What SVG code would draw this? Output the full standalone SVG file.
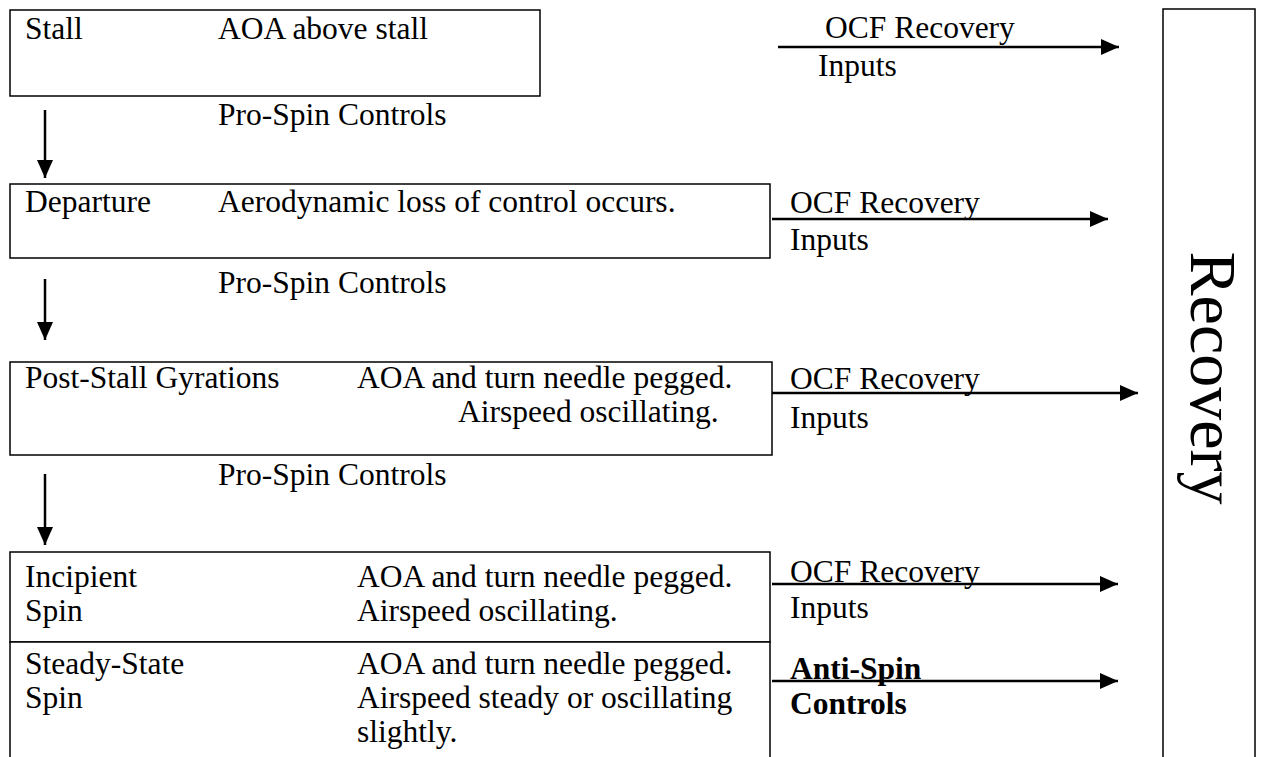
<svg xmlns="http://www.w3.org/2000/svg" width="1284" height="757" viewBox="0 0 1284 757">
<style>
text{font-family:"Liberation Serif","Times New Roman",serif;font-size:31.5px;fill:#000}
.b{font-weight:bold}
.box{fill:#fff;stroke:#000;stroke-width:1.5}
.arr{stroke:#000;stroke-width:2.5;fill:none;marker-end:url(#ah)}
.rec{font-size:66px}
</style>
<defs>
<marker id="ah" markerUnits="userSpaceOnUse" markerWidth="19" markerHeight="17" refX="18" refY="8" orient="auto">
<path d="M0,0 L18,8 L0,16 z" fill="#000"/>
</marker>
</defs>
<rect width="1284" height="757" fill="#fff"/>
<g id="stall">
<rect class="box" x="10" y="10" width="530" height="86"/>
<text x="25" y="39">Stall</text>
<text x="218" y="39">AOA above stall</text>
</g>
<g id="departure">
<rect class="box" x="10" y="184" width="760" height="74"/>
<text x="25" y="212">Departure</text>
<text x="218" y="212">Aerodynamic loss of control occurs.</text>
</g>
<g id="psg">
<rect class="box" x="10" y="362" width="762" height="93"/>
<text x="25" y="388">Post-Stall Gyrations</text>
<text x="357" y="388">AOA and turn needle pegged.</text>
<text x="458" y="422">Airspeed oscillating.</text>
</g>
<g id="incipient">
<rect class="box" x="10" y="552" width="760" height="90"/>
<text x="25" y="587">Incipient</text>
<text x="25" y="621">Spin</text>
<text x="357" y="587">AOA and turn needle pegged.</text>
<text x="357" y="621">Airspeed oscillating.</text>
</g>
<g id="steady">
<rect class="box" x="10" y="642" width="760" height="130"/>
<text x="25" y="674">Steady-State</text>
<text x="25" y="708">Spin</text>
<text x="357" y="674">AOA and turn needle pegged.</text>
<text x="357" y="708">Airspeed steady or oscillating</text>
<text x="357" y="742">slightly.</text>
</g>
<g id="recovery">
<rect class="box" x="1163" y="9" width="92" height="770"/>
<text class="rec" text-anchor="middle" transform="translate(1191,378) rotate(90)">Recovery</text>
</g>
<g id="connectors">
<line class="arr" x1="45" y1="110" x2="45" y2="178"/>
<line class="arr" x1="45" y1="279" x2="45" y2="340"/>
<line class="arr" x1="45" y1="474" x2="45" y2="545"/>
<line class="arr" x1="778" y1="47" x2="1119" y2="47"/>
<line class="arr" x1="772" y1="219" x2="1108" y2="219"/>
<line class="arr" x1="772" y1="393" x2="1138" y2="393"/>
<line class="arr" x1="772" y1="584" x2="1118" y2="584"/>
<line class="arr" x1="772" y1="681" x2="1118" y2="681"/>
</g>
<g id="labels">
<text x="218" y="125">Pro-Spin Controls</text>
<text x="218" y="293">Pro-Spin Controls</text>
<text x="218" y="485">Pro-Spin Controls</text>
<text x="825" y="38">OCF Recovery</text>
<text x="818" y="76">Inputs</text>
<text x="790" y="213">OCF Recovery</text>
<text x="790" y="250">Inputs</text>
<text x="790" y="389">OCF Recovery</text>
<text x="790" y="428">Inputs</text>
<text x="790" y="582">OCF Recovery</text>
<text x="790" y="618">Inputs</text>
<text class="b" x="790" y="679">Anti-Spin</text>
<text class="b" x="790" y="714">Controls</text>
</g>
</svg>
